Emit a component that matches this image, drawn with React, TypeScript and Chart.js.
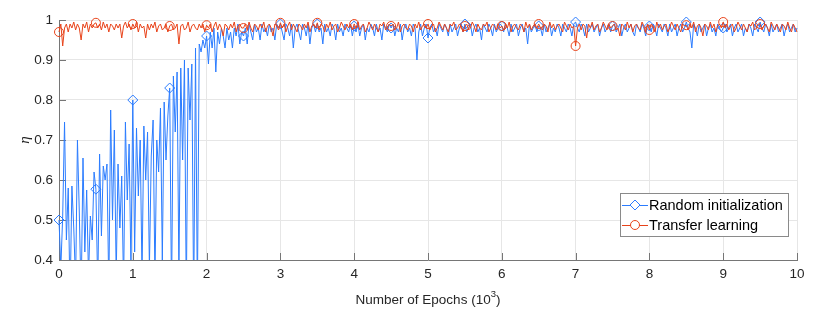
import React, { useEffect, useRef } from "react";
import { Chart, registerables } from "chart.js";

Chart.register(...registerables);

// x axis: epochs in thousands, sampled every 25 epochs (0 .. 10)
const EPOCH_STEP = 0.025;
const MARKER_EVERY = 20; // a marker every 500 epochs

const xTickValues = [0, 1, 2, 3, 4, 5, 6, 7, 8, 9, 10];
const yTickValues = [0.4, 0.5, 0.6, 0.7, 0.8, 0.9, 1];

const seriesNames = ["Random initialization", "Transfer learning"];

// η for training from a random initialization (one row = 500 epochs)
const randomInit = [
  0.50, 0.38, 0.51, 0.745, 0.45, 0.58, 0.30, 0.585, 0.48, 0.34, 0.70, 0.52, 0.30, 0.655, 0.42, 0.575, 0.36, 0.51, 0.45, 0.62,
  0.577, 0.33, 0.665, 0.46, 0.635, 0.60, 0.64, 0.32, 0.775, 0.50, 0.725, 0.36, 0.64, 0.48, 0.61, 0.33, 0.745, 0.55, 0.69, 0.38,
  0.80, 0.42, 0.73, 0.56, 0.70, 0.36, 0.735, 0.60, 0.72, 0.38, 0.66, 0.75, 0.35, 0.70, 0.62, 0.78, 0.40, 0.795, 0.65, 0.76,
  0.83, 0.30, 0.86, 0.72, 0.87, 0.36, 0.88, 0.65, 0.90, 0.30, 0.88, 0.75, 0.89, 0.28, 0.93, 0.30, 0.94, 0.92, 0.95, 0.93,
  0.96, 0.89, 0.97, 0.93, 0.98, 0.87, 0.97, 0.94, 0.98, 0.96, 0.93, 0.98, 0.95, 0.97, 0.93, 0.98, 0.96, 0.99, 0.94, 0.97,
  0.96, 0.98, 0.94, 0.99, 0.97, 0.95, 0.99, 0.97, 0.98, 0.95, 0.99, 0.97, 0.98, 0.96, 0.99, 0.97, 0.98, 0.95, 0.99, 0.98,
  0.99, 0.97, 0.95, 0.99, 0.98, 0.96, 0.99, 0.93, 0.98, 0.99, 0.97, 0.95, 0.99, 0.98, 0.96, 0.99, 0.94, 0.98, 0.99, 0.97,
  0.99, 0.97, 0.98, 0.94, 0.99, 0.97, 0.98, 0.96, 0.99, 0.98, 0.95, 0.99, 0.97, 0.98, 0.96, 0.99, 0.98, 0.97, 0.99, 0.96,
  0.985, 0.97, 0.99, 0.96, 0.98, 0.99, 0.95, 0.98, 0.97, 0.99, 0.98, 0.96, 0.99, 0.97, 0.98, 0.95, 0.99, 0.98, 0.97, 0.99,
  0.98, 0.99, 0.96, 0.98, 0.97, 0.99, 0.95, 0.98, 0.99, 0.97, 0.98, 0.96, 0.99, 0.98, 0.90, 0.97, 0.99, 0.96, 0.98, 0.99,
  0.955, 0.98, 0.99, 0.97, 0.98, 0.96, 0.99, 0.98, 0.97, 0.99, 0.98, 0.96, 0.99, 0.97, 0.98, 0.99, 0.96, 0.98, 0.99, 0.97,
  0.99, 0.97, 0.98, 0.99, 0.96, 0.98, 0.99, 0.97, 0.98, 0.95, 0.99, 0.98, 0.97, 0.99, 0.98, 0.96, 0.99, 0.97, 0.98, 0.99,
  0.985, 0.97, 0.99, 0.98, 0.96, 0.99, 0.97, 0.98, 0.99, 0.96, 0.98, 0.99, 0.97, 0.98, 0.94, 0.99, 0.97, 0.98, 0.99, 0.97,
  0.985, 0.98, 0.96, 0.99, 0.97, 0.98, 0.99, 0.96, 0.98, 0.97, 0.99, 0.98, 0.96, 0.99, 0.98, 0.97, 0.99, 0.98, 0.96, 0.99,
  0.995, 0.98, 0.97, 0.99, 0.98, 0.96, 0.99, 0.97, 0.98, 0.99, 0.97, 0.98, 0.99, 0.96, 0.98, 0.99, 0.97, 0.98, 0.99, 0.97,
  0.985, 0.99, 0.97, 0.98, 0.99, 0.96, 0.98, 0.99, 0.97, 0.98, 0.99, 0.97, 0.96, 0.99, 0.98, 0.97, 0.99, 0.98, 0.96, 0.99,
  0.985, 0.97, 0.99, 0.98, 0.96, 0.99, 0.98, 0.97, 0.99, 0.98, 0.96, 0.99, 0.97, 0.98, 0.99, 0.96, 0.98, 0.99, 0.97, 0.98,
  0.995, 0.98, 0.97, 0.93, 0.99, 0.98, 0.96, 0.99, 0.97, 0.98, 0.99, 0.96, 0.98, 0.99, 0.97, 0.98, 0.96, 0.99, 0.98, 0.97,
  0.98, 0.99, 0.97, 0.98, 0.99, 0.96, 0.98, 0.99, 0.97, 0.98, 0.99, 0.96, 0.98, 0.97, 0.99, 0.98, 0.96, 0.99, 0.98, 0.97,
  0.995, 0.98, 0.97, 0.99, 0.98, 0.96, 0.99, 0.97, 0.98, 0.99, 0.97, 0.98, 0.99, 0.96, 0.98, 0.99, 0.97, 0.98, 0.99, 0.97,
  0.98,
];

// η for transfer learning (one row = 500 epochs)
const transfer = [
  0.97, 0.99, 0.935, 0.98, 0.99, 0.97, 0.99, 0.98, 0.995, 0.975, 0.99, 0.98, 0.95, 0.99, 0.98, 0.995, 0.97, 0.99, 0.98, 0.99,
  0.993, 0.98, 0.99, 0.975, 0.995, 0.98, 0.99, 0.97, 0.99, 0.985, 0.975, 0.99, 0.98, 0.99, 0.955, 0.985, 0.995, 0.98, 0.99, 0.975,
  0.99, 0.98, 0.995, 0.97, 0.99, 0.98, 0.985, 0.955, 0.99, 0.975, 0.99, 0.98, 0.995, 0.97, 0.985, 0.99, 0.975, 0.98, 0.99, 0.97,
  0.985, 0.99, 0.975, 0.98, 0.99, 0.94, 0.985, 0.99, 0.975, 0.98, 0.995, 0.97, 0.985, 0.99, 0.98, 0.975, 0.99, 0.98, 0.99, 0.97,
  0.987, 0.98, 0.99, 0.97, 0.985, 0.995, 0.975, 0.99, 0.98, 0.96, 0.99, 0.985, 0.975, 0.99, 0.98, 0.995, 0.97, 0.985, 0.99, 0.98,
  0.98, 0.99, 0.975, 0.995, 0.98, 0.97, 0.99, 0.985, 0.975, 0.99, 0.98, 0.995, 0.97, 0.985, 0.99, 0.98, 0.96, 0.99, 0.985, 0.975,
  0.993, 0.98, 0.99, 0.97, 0.985, 0.995, 0.975, 0.99, 0.98, 0.97, 0.99, 0.985, 0.975, 0.99, 0.98, 0.995, 0.97, 0.985, 0.99, 0.98,
  0.993, 0.975, 0.99, 0.985, 0.97, 0.99, 0.98, 0.995, 0.975, 0.985, 0.99, 0.97, 0.98, 0.995, 0.985, 0.975, 0.99, 0.98, 0.99, 0.975,
  0.99, 0.98, 0.995, 0.975, 0.985, 0.99, 0.97, 0.98, 0.995, 0.985, 0.975, 0.99, 0.98, 0.97, 0.99, 0.985, 0.995, 0.975, 0.98, 0.99,
  0.985, 0.99, 0.975, 0.98, 0.995, 0.97, 0.985, 0.99, 0.98, 0.975, 0.99, 0.985, 0.97, 0.99, 0.98, 0.995, 0.975, 0.985, 0.99, 0.98,
  0.99, 0.975, 0.985, 0.99, 0.97, 0.98, 0.995, 0.985, 0.975, 0.99, 0.98, 0.97, 0.99, 0.985, 0.995, 0.975, 0.98, 0.99, 0.985, 0.97,
  0.985, 0.99, 0.975, 0.98, 0.995, 0.985, 0.97, 0.99, 0.98, 0.975, 0.99, 0.985, 0.995, 0.97, 0.98, 0.99, 0.985, 0.975, 0.99, 0.98,
  0.985, 0.975, 0.99, 0.98, 0.995, 0.97, 0.985, 0.99, 0.98, 0.975, 0.99, 0.985, 0.97, 0.995, 0.98, 0.99, 0.975, 0.985, 0.99, 0.98,
  0.99, 0.98, 0.975, 0.99, 0.985, 0.97, 0.995, 0.98, 0.99, 0.975, 0.985, 0.99, 0.98, 0.97, 0.995, 0.985, 0.975, 0.99, 0.98, 0.985,
  0.935, 0.98, 0.99, 0.975, 0.99, 0.985, 0.955, 0.99, 0.98, 0.995, 0.975, 0.985, 0.99, 0.97, 0.98, 0.995, 0.985, 0.975, 0.99, 0.98,
  0.985, 0.99, 0.975, 0.98, 0.96, 0.99, 0.985, 0.975, 0.995, 0.98, 0.99, 0.97, 0.985, 0.99, 0.98, 0.975, 0.995, 0.985, 0.97, 0.99,
  0.975, 0.99, 0.985, 0.97, 0.995, 0.98, 0.99, 0.975, 0.985, 0.99, 0.97, 0.98, 0.995, 0.985, 0.975, 0.99, 0.98, 0.97, 0.99, 0.985,
  0.987, 0.975, 0.99, 0.98, 0.995, 0.97, 0.985, 0.99, 0.98, 0.96, 0.99, 0.985, 0.975, 0.995, 0.98, 0.99, 0.97, 0.985, 0.99, 0.98,
  0.995, 0.98, 0.99, 0.975, 0.985, 0.99, 0.97, 0.98, 0.995, 0.985, 0.975, 0.99, 0.98, 0.97, 0.99, 0.985, 0.995, 0.975, 0.98, 0.99,
  0.99, 0.975, 0.985, 0.99, 0.98, 0.97, 0.995, 0.985, 0.975, 0.99, 0.98, 0.97, 0.99, 0.985, 0.975, 0.995, 0.98, 0.97, 0.99, 0.98,
  0.97,
];

const epochs = randomInit.map((_, i) => i * EPOCH_STEP);

const BLUE = "#2b7cff";
const RED = "#e8431a";
const AXIS = "#767676";
const GRID = "#e6e6e6";
const TEXT = "#262626";
const FONT = '"Liberation Sans", Arial, Helvetica, sans-serif';

const W = 830;
const H = 311;

const decorPlugin = {
  id: "decor",
  beforeDatasetsDraw(chart: any) {
    const { ctx, chartArea: a, scales } = chart;
    const x = scales.x;
    const y = scales.y;
    ctx.save();
    ctx.strokeStyle = AXIS;
    ctx.lineWidth = 1;
    ctx.beginPath();
    xTickValues.forEach((v) => {
      const px = Math.round(x.getPixelForValue(v)) + 0.5;
      ctx.moveTo(px, a.bottom);
      ctx.lineTo(px, a.bottom - 7);
    });
    yTickValues.forEach((v) => {
      const py = Math.round(y.getPixelForValue(v)) + 0.5;
      ctx.moveTo(a.left, py);
      ctx.lineTo(a.left + 7, py);
    });
    ctx.stroke();
    ctx.restore();
  },
  afterDraw(chart: any) {
    const { ctx, chartArea: a } = chart;
    ctx.save();
    // axis titles
    ctx.fillStyle = TEXT;
    ctx.textBaseline = "middle";
    const cx = (a.left + a.right) / 2;
    const main = "Number of Epochs (10";
    ctx.font = `13.5px ${FONT}`;
    const wMain = ctx.measureText(main).width;
    ctx.font = `9.5px ${FONT}`;
    const wSup = ctx.measureText("3").width;
    ctx.font = `13.5px ${FONT}`;
    const wEnd = ctx.measureText(")").width;
    const total = wMain + wSup + wEnd;
    let sx = cx - total / 2;
    const ty = 300;
    ctx.textAlign = "left";
    ctx.fillText(main, sx, ty);
    sx += wMain;
    ctx.font = `9.5px ${FONT}`;
    ctx.fillText("3", sx, ty - 6);
    sx += wSup;
    ctx.font = `13.5px ${FONT}`;
    ctx.fillText(")", sx, ty);

    ctx.save();
    ctx.translate(25, (a.top + a.bottom) / 2);
    ctx.rotate(-Math.PI / 2);
    ctx.textAlign = "center";
    ctx.font = `italic 15px "Liberation Serif", "Times New Roman", serif`;
    ctx.fillText("η", 0, 0);
    ctx.restore();

    // legend box
    const bx = 620.5;
    const by = 193.5;
    const bw = 168;
    const bh = 43;
    ctx.fillStyle = "#ffffff";
    ctx.fillRect(bx, by, bw, bh);
    ctx.strokeStyle = "#8a8a8a";
    ctx.lineWidth = 1;
    ctx.strokeRect(bx, by, bw, bh);
    const rows = [
      { name: seriesNames[0], color: BLUE, style: "diamond", y: 205 },
      { name: seriesNames[1], color: RED, style: "circle", y: 225 },
    ];
    rows.forEach((r) => {
      ctx.strokeStyle = r.color;
      ctx.lineWidth = 1;
      ctx.beginPath();
      ctx.moveTo(622, r.y + 0.5);
      ctx.lineTo(648, r.y + 0.5);
      ctx.stroke();
      ctx.beginPath();
      if (r.style === "diamond") {
        ctx.moveTo(635, r.y - 5);
        ctx.lineTo(640, r.y);
        ctx.lineTo(635, r.y + 5);
        ctx.lineTo(630, r.y);
        ctx.closePath();
      } else {
        ctx.arc(635, r.y, 4.5, 0, Math.PI * 2);
      }
      ctx.fillStyle = "#ffffff";
      ctx.fill();
      ctx.stroke();
      ctx.fillStyle = "#000000";
      ctx.textAlign = "left";
      ctx.textBaseline = "middle";
      ctx.font = `14.5px ${FONT}`;
      ctx.fillText(r.name, 649, r.y + 1);
    });
    ctx.restore();
  },
};

export default function App() {
  const canvasRef = useRef<HTMLCanvasElement | null>(null);

  useEffect(() => {
    const canvas = canvasRef.current;
    if (!canvas) return;
    const lastIndex = randomInit.length - 1;
    const markerRadius = (size: number) => (ctx: any) =>
      ctx.dataIndex % MARKER_EVERY === 0 && ctx.dataIndex !== lastIndex ? size : 0;

    const chart = new Chart(canvas, {
      type: "line",
      data: {
        datasets: [
          {
            label: seriesNames[0],
            data: epochs.map((e, i) => ({ x: e, y: randomInit[i] })),
            borderColor: BLUE,
            borderWidth: 1,
            pointStyle: "rectRot",
            pointRadius: markerRadius(5),
            pointHoverRadius: markerRadius(5),
            pointBorderColor: BLUE,
            pointBackgroundColor: "rgba(0,0,0,0)",
            pointBorderWidth: 1,
            tension: 0,
            order: 2,
            clip: { left: 10, top: 10, right: 10, bottom: 0 },
          } as any,
          {
            label: seriesNames[1],
            data: epochs.map((e, i) => ({ x: e, y: transfer[i] })),
            borderColor: RED,
            borderWidth: 1,
            pointStyle: "circle",
            pointRadius: markerRadius(4.5),
            pointHoverRadius: markerRadius(4.5),
            pointBorderColor: RED,
            pointBackgroundColor: "rgba(0,0,0,0)",
            pointBorderWidth: 1,
            tension: 0,
            order: 1,
            clip: { left: 10, top: 10, right: 10, bottom: 0 },
          } as any,
        ],
      },
      options: {
        animation: false,
        responsive: false,
        events: [],
        layout: { padding: { left: 0, top: 20, right: 33, bottom: 0 } },
        plugins: {
          legend: { display: false },
          tooltip: { enabled: false },
        },
        scales: {
          x: {
            type: "linear",
            min: 0,
            max: 10,
            afterFit: (s: any) => {
              s.height = 51;
            },
            afterBuildTicks: (s: any) => {
              s.ticks = xTickValues.map((v) => ({ value: v }));
            },
            grid: { color: GRID, drawTicks: false, lineWidth: 1 },
            border: { display: true, color: AXIS, width: 1 },
            ticks: {
              padding: 6,
              color: TEXT,
              font: { family: FONT, size: 13.5 },
              maxRotation: 0,
              callback: (v: any) => String(v),
            },
          },
          y: {
            type: "linear",
            min: 0.4,
            max: 1,
            afterFit: (s: any) => {
              s.width = 59;
            },
            afterBuildTicks: (s: any) => {
              s.ticks = yTickValues.map((v) => ({ value: v }));
            },
            grid: { color: GRID, drawTicks: false, lineWidth: 1 },
            border: { display: true, color: AXIS, width: 1 },
            ticks: {
              padding: 6,
              color: TEXT,
              font: { family: FONT, size: 13.5 },
              callback: (v: any) => String(Math.round(Number(v) * 10) / 10),
            },
          },
        },
      },
      plugins: [decorPlugin],
    });
    return () => chart.destroy();
  }, []);

  return (
    <div style={{ position: "fixed", left: 0, top: 0, width: W, height: H, background: "#fff" }}>
      <canvas ref={canvasRef} width={W} height={H} style={{ display: "block", width: W, height: H }} />
    </div>
  );
}
